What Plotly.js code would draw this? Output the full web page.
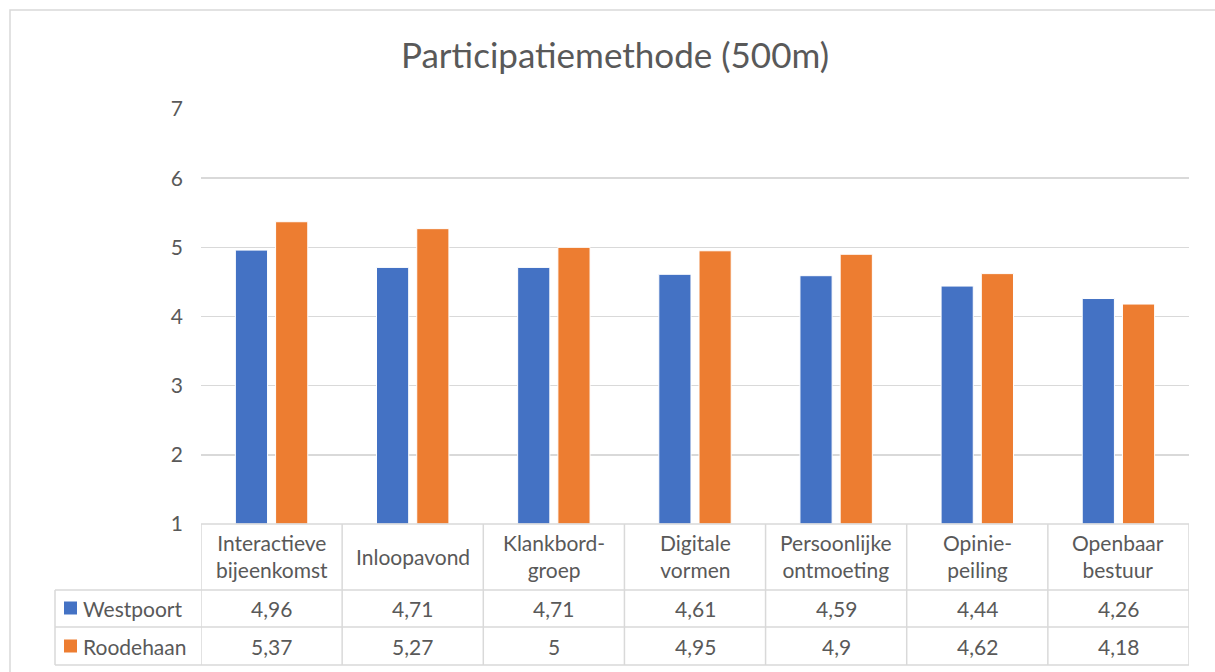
<!DOCTYPE html>
<html>
<head>
<meta charset="utf-8">
<script src="https://cdn.plot.ly/plotly-3.0.1.min.js"></script>
<style>
html,body{margin:0;padding:0;background:#fff;}
#chart{width:1215px;height:672px;}
</style>
</head>
<body>
<div id="chart"></div>
<script>
const categories = ["Interactieve bijeenkomst","Inloopavond","Klankbord-groep","Digitale vormen","Persoonlijke ontmoeting","Opinie-peiling","Openbaar bestuur"];
const categoryLabels = ["Interactieve<br>bijeenkomst","Inloopavond","Klankbord-<br>groep","Digitale<br>vormen","Persoonlijke<br>ontmoeting","Opinie-<br>peiling","Openbaar<br>bestuur"];
const westpoort = [4.96, 4.71, 4.71, 4.61, 4.59, 4.44, 4.26];
const roodehaan = [5.37, 5.27, 5.00, 4.95, 4.90, 4.62, 4.18];
const seriesNames = ["Westpoort", "Roodehaan"];
const seriesColors = ["#4472C4", "#ED7D31"];
const yTicks = [1, 2, 3, 4, 5, 6, 7];

const W = 1215, H = 672;
const L = 201, R = 26, T = 109, B = 148;
const plotW = W - L - R, plotH = H - T - B;
const px = x => (x - L) / plotW;
const py = y => (H - B - y) / plotH;

const txt = "#595959", grid = "#D9D9D9";
const fontFam = "Lato, 'Open Sans', sans-serif";
const fs = 21;
const fmt = v => String(v).replace(".", ",");

const traces = [westpoort, roodehaan].map((vals, i) => ({
  type: "bar",
  name: seriesNames[i],
  x: categories,
  y: vals.map(v => v - 1),
  base: 1,
  marker: {color: seriesColors[i], line: {color: "#ffffff", width: 1}},
  hoverinfo: "skip"
}));

const shapes = [];
const annotations = [];
// chart frame
shapes.push({type:"rect", xref:"paper", yref:"paper", x0:px(10), x1:px(1240), y0:py(700), y1:py(10), line:{color:grid, width:1.5}, layer:"below"});
// table horizontal lines
[590, 627, 665].forEach(y => shapes.push({type:"line", xref:"paper", yref:"paper", x0:px(55), x1:px(1189), y0:py(y), y1:py(y), line:{color:grid, width:1.5}}));
shapes.push({type:"line", xref:"paper", yref:"paper", x0:px(201), x1:px(1189), y0:py(524), y1:py(524), line:{color:grid, width:1.5}});
// table vertical lines at category boundaries
for (let i = 0; i <= categories.length; i++) {
  shapes.push({type:"line", xref:"x", yref:"paper", x0:i-0.5, x1:i-0.5, y0:py(524), y1:py(665), line:{color:grid, width:1.5}});
}
shapes.push({type:"line", xref:"paper", yref:"paper", x0:px(55), x1:px(55), y0:py(590), y1:py(665), line:{color:grid, width:1.5}});

// header labels
categories.forEach((c, i) => {
  annotations.push({xref:"x", yref:"paper", x:c, y:py(556), text:categoryLabels[i], showarrow:false, xanchor:"center", yanchor:"middle", align:"center", font:{family:fontFam, size:fs, color:txt}});
});
// value rows
const rowY = [608, 646];
[westpoort, roodehaan].forEach((vals, s) => {
  vals.forEach((v, i) => {
    annotations.push({xref:"x", yref:"paper", x:categories[i], y:py(rowY[s]), text:fmt(v), showarrow:false, xanchor:"center", yanchor:"middle", font:{family:fontFam, size:fs, color:txt}});
  });
  shapes.push({type:"rect", xref:"paper", yref:"paper", x0:px(64), x1:px(77), y0:py(rowY[s]+6.5), y1:py(rowY[s]-6.5), fillcolor:seriesColors[s], line:{width:0}});
  annotations.push({xref:"paper", yref:"paper", x:px(81), y:py(rowY[s]), text:seriesNames[s], showarrow:false, xanchor:"left", yanchor:"middle", font:{family:fontFam, size:fs, color:txt}});
});

const layout = {
  width: W, height: H,
  margin: {l: L, r: R, t: T, b: B, pad: 0},
  paper_bgcolor: "#ffffff", plot_bgcolor: "#ffffff",
  title: {text: "Participatiemethode (500m)", x: 615 / W, xanchor: "center", xref: "container", y: 1 - 56 / H, yanchor: "middle", font: {family: fontFam, size: 35, color: txt}},
  showlegend: false,
  barmode: "group",
  bargap: 0.43,
  bargroupgap: 0.2,
  xaxis: {showticklabels: false, showgrid: false, zeroline: false, showline: false, ticks: "", range: [-0.5, 6.5]},
  yaxis: {range: [1, 7], tickvals: yTicks, ticktext: yTicks.map(String), showgrid: true, gridcolor: grid, gridwidth: 1.5, zeroline: false, showline: false, ticks: "", ticklabelstandoff: 17, tickfont: {family: fontFam, size: fs, color: txt}},
  shapes: shapes,
  annotations: annotations
};

Plotly.newPlot("chart", traces, layout, {displayModeBar: false, staticPlot: true});
</script>
</body>
</html>
